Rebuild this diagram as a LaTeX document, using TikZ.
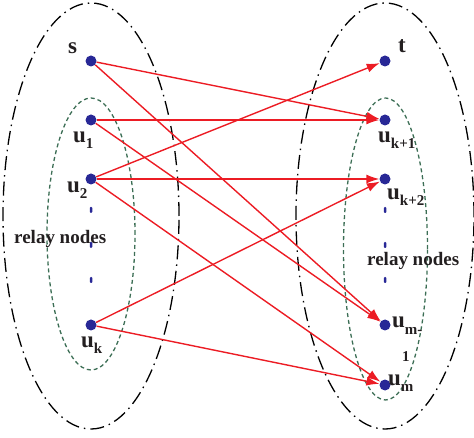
\documentclass[tikz,border=0pt]{standalone}
\usepackage{fontspec}
\setmainfont{Liberation Serif}
\usetikzlibrary{arrows.meta}
\definecolor{nodeblue}{RGB}{40,40,150}
\definecolor{edgered}{RGB}{236,28,36}
\definecolor{grn}{RGB}{60,110,85}
\definecolor{txt}{RGB}{35,31,32}
\newcommand\lsub[1]{\raisebox{-6pt}{\fontsize{15}{16}\selectfont #1}}
\begin{document}
\begin{tikzpicture}[x=1pt,y=-1pt,
 vtx/.style={circle,fill=nodeblue,inner sep=0pt,minimum size=11pt},
 vdot/.style={fill=nodeblue,inner sep=0pt,minimum width=2.5pt,minimum height=6pt,rounded corners=1pt},
 lbl/.style={text=txt,font=\bfseries\fontsize{23}{25}\selectfont,inner sep=0pt,anchor=base west},
 relay/.style={text=txt,font=\bfseries\fontsize{19}{21}\selectfont,inner sep=0pt,anchor=base west},
 edge/.style={draw=edgered,line width=1.4pt,-{Latex[length=13pt,width=9pt]}},
 outer/.style={draw=black,line width=1.3pt,dash pattern=on 14pt off 5pt on 1.5pt off 5pt},
 inner/.style={draw=grn,line width=1.3pt,dash pattern=on 4pt off 3pt}]
\useasboundingbox (0,0) rectangle (474,438);
% group outlines
\draw[outer] (91,216) ellipse [x radius=88pt, y radius=213pt];
\draw[outer] (385,216) ellipse [x radius=89pt, y radius=213pt];
\draw[inner] (91,234) ellipse [x radius=44pt, y radius=136pt];
\draw[inner] (385.5,249) ellipse [x radius=42pt, y radius=151pt];
% vertices
\node[vtx] (s) at (91,61) {};
\node[vtx] (u1) at (91,120) {};
\node[vtx] (u2) at (91,179) {};
\node[vtx] (uk) at (91,325) {};
\node[vtx] (t) at (385,61) {};
\node[vtx] (uk1) at (385,120) {};
\node[vtx] (uk2) at (385,179) {};
\node[vtx] (um1) at (385,325) {};
\node[vtx] (um) at (385,385) {};
% ellipsis dots
\node[vdot] (ld1) at (91,210) {};
\node[vdot] (ld2) at (91,245) {};
\node[vdot] (ld3) at (91,280) {};
\node[vdot] (rd1) at (385,210) {};
\node[vdot] (rd2) at (385,245) {};
\node[vdot] (rd3) at (385,280) {};
% labels
\node[lbl] (ls) at (68,54) {s};
\node[lbl] (lu1) at (73,143) {u\lsub{1}};
\node[lbl] (lu2) at (67,193) {u\lsub{2}};
\node[lbl] (luk) at (81,348) {u\lsub{k}};
\node[lbl] (lt) at (398,53) {t};
\node[lbl] (luk1) at (378,143) {u\lsub{k+1}};
\node[lbl] (luk2) at (387,200) {u\lsub{k+2}};
\node[lbl] (lum1) at (392,328) {u\lsub{m-}};
\node[lbl,font=\bfseries\fontsize{15}{16}\selectfont] (lum1b) at (402,362) {1};
\node[lbl] (lum) at (388,385) {u\lsub{m}};
\node[relay] (rl) at (14,244) {relay nodes};
\node[relay] (rr) at (367,266) {relay nodes};
% edges
\draw[edge] (s) -- (uk1);
\draw[edge] (s) -- (um1);
\draw[edge] (u1) -- (uk1);
\draw[edge] (u1) -- (um1);
\draw[edge] (u2) -- (t);
\draw[edge] (u2) -- (uk2);
\draw[edge] (u2) -- (um);
\draw[edge] (uk) -- (uk2);
\draw[edge] (uk) -- (um);
\end{tikzpicture}
\end{document}
